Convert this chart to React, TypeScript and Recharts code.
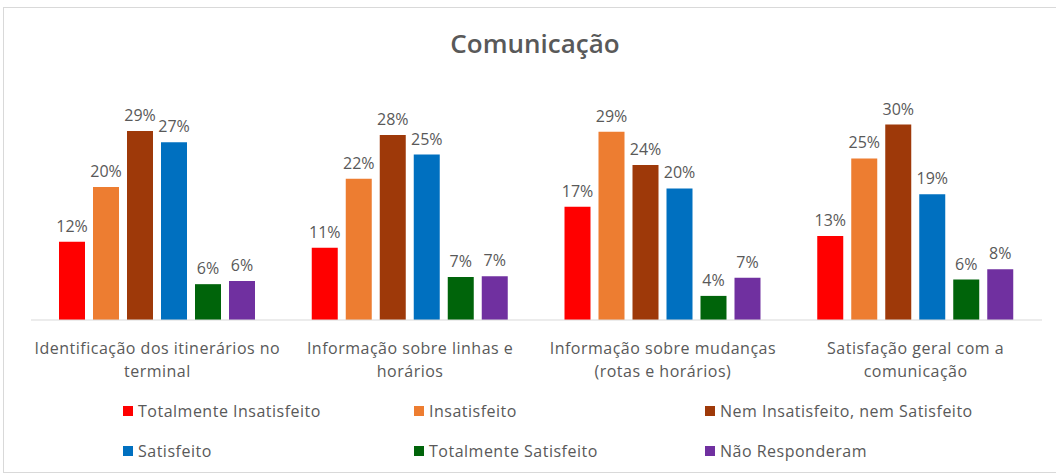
import React from "react";
import { BarChart, Bar, XAxis, YAxis, LabelList, Legend } from "recharts";

const categories = [
  "Identificação dos itinerários no\nterminal",
  "Informação sobre linhas e\nhorários",
  "Informação sobre mudanças\n(rotas e horários)",
  "Satisfação geral com a\ncomunicação",
];

const seriesNames = [
  "Totalmente Insatisfeito",
  "Insatisfeito",
  "Nem Insatisfeito, nem Satisfeito",
  "Satisfeito",
  "Totalmente Satisfeito",
  "Não Responderam",
];

const seriesColors = ["#FF0000", "#ED7D31", "#9E3909", "#0070C0", "#00640A", "#7030A0"];

const totalmenteInsatisfeito = [12.0, 11.1, 17.4, 12.9];
const insatisfeito = [20.4, 21.7, 28.9, 24.8];
const nemNem = [29.0, 28.4, 23.8, 30.0];
const satisfeito = [27.3, 25.4, 20.2, 19.3];
const totalmenteSatisfeito = [5.5, 6.6, 3.7, 6.2];
const naoResponderam = [6.0, 6.7, 6.5, 7.8];

const seriesValues = [
  totalmenteInsatisfeito,
  insatisfeito,
  nemNem,
  satisfeito,
  totalmenteSatisfeito,
  naoResponderam,
];

const keys = ["s0", "s1", "s2", "s3", "s4", "s5"];

const data = categories.map((c, i) => {
  const row: Record<string, string | number> = { name: c };
  keys.forEach((k, j) => {
    row[k] = seriesValues[j][i];
  });
  return row;
});

const FONT = "'Open Sans', sans-serif";
const TEXT = "#595959";

const CategoryTick = (props: any) => {
  const { x, y, payload } = props;
  const lines = String(payload.value).split("\n");
  return (
    <text
      x={x}
      y={y}
      textAnchor="middle"
      fill={TEXT}
      fontSize={16}
      fontFamily={FONT}
      style={{ letterSpacing: "0.5px" }}
    >
      {lines.map((l, i) => (
        <tspan key={i} x={x} dy={i === 0 ? 26 : 23}>
          {l}
        </tspan>
      ))}
    </text>
  );
};

const LegendContent = () => (
  <div
    style={{
      height: 80,
      display: "grid",
      gridTemplateColumns: "291px 291px 291px",
      gridTemplateRows: "40px 40px",
      paddingLeft: 92,
      fontFamily: FONT,
      fontSize: 16,
      letterSpacing: "0.5px",
      color: TEXT,
    }}
  >
    {seriesNames.map((n, i) => (
      <div key={n} style={{ display: "flex", alignItems: "center", whiteSpace: "nowrap" }}>
        <span
          style={{
            display: "inline-block",
            width: 10,
            height: 10,
            background: seriesColors[i],
            marginRight: 5,
          }}
        />
        {n}
      </div>
    ))}
  </div>
);

export default function App() {
  return (
    <div style={{ position: "absolute", left: 0, top: 0, width: 1056, height: 476, background: "#fff", overflow: "hidden" }}>
      <div
        style={{
          position: "absolute",
          left: 3,
          top: 7,
          width: 1070,
          height: 466,
          border: "1px solid #d9d9d9",
          boxSizing: "border-box",
        }}
      />
      <div
        style={{
          position: "absolute",
          left: 0,
          width: 1070,
          top: 25,
          textAlign: "center",
          fontFamily: FONT,
          fontSize: 26,
          fontWeight: 600,
          color: TEXT,
        }}
      >
        Comunicação
      </div>
      <div style={{ position: "absolute", left: 0, top: 0 }}>
        <BarChart
          width={1056}
          height={476}
          data={data}
          margin={{ top: 92, right: 14, bottom: 5, left: 31 }}
          barSize={26}
          barGap={8}
        >
          <XAxis
            dataKey="name"
            tick={<CategoryTick />}
            tickLine={false}
            axisLine={{ stroke: "#d9d9d9" }}
            height={71}
            interval={0}
          />
          <YAxis hide domain={[0, 35]} />
          <Legend verticalAlign="bottom" align="left" height={80} content={<LegendContent />} />
          {keys.map((k, i) => (
            <Bar key={k} dataKey={k} name={seriesNames[i]} fill={seriesColors[i]} isAnimationActive={false}>
              <LabelList
                dataKey={k}
                position="top"
                offset={10}
                fill={TEXT}
                fontSize={16}
                fontFamily={FONT}
                formatter={(v: any) => `${Math.round(Number(v))}%`}
              />
            </Bar>
          ))}
        </BarChart>
      </div>
    </div>
  );
}
